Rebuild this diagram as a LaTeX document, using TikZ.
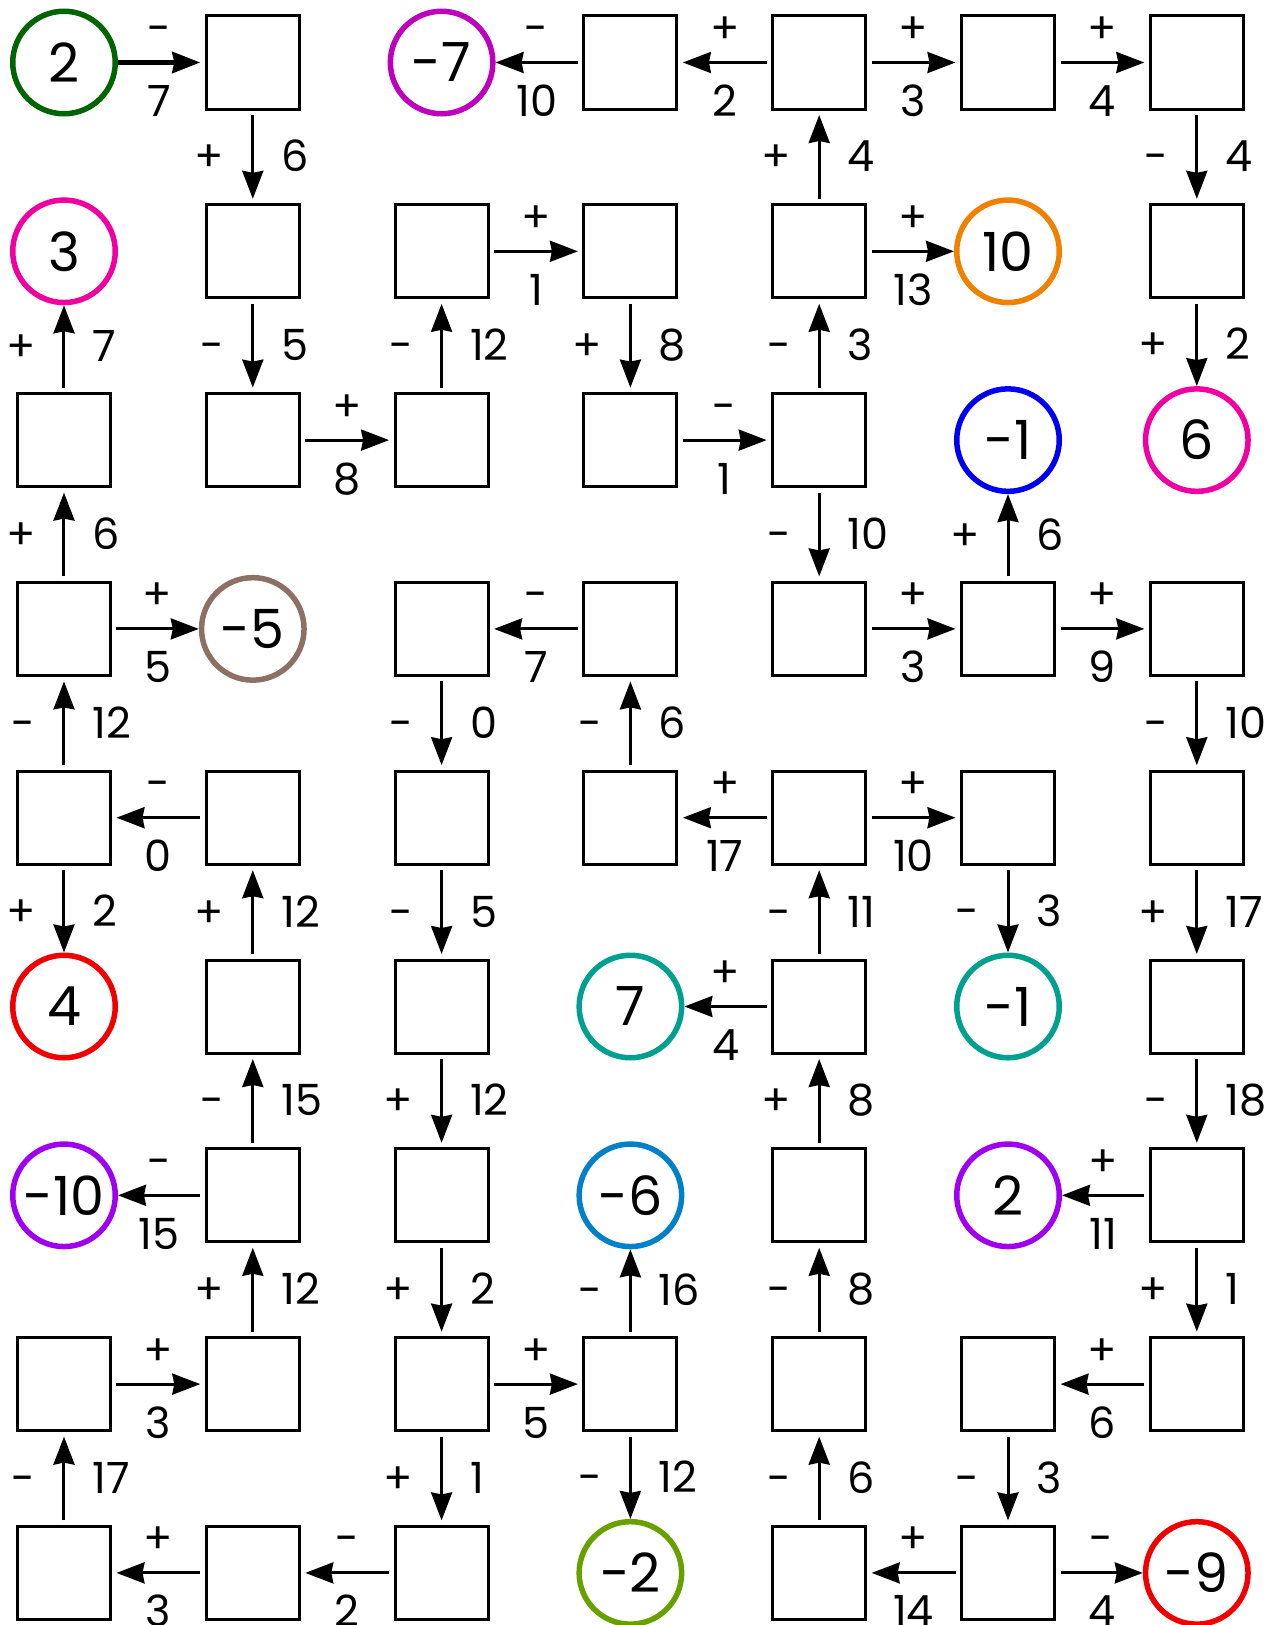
\documentclass[tikz,border=0pt]{standalone}
\usepackage{fontspec}
\setmainfont{Poppins}
\usetikzlibrary{arrows.meta}
\definecolor{cgreen}{RGB}{0,100,0}
\definecolor{cmag}{RGB}{190,0,190}
\definecolor{cpink}{RGB}{240,0,160}
\definecolor{corange}{RGB}{240,128,0}
\definecolor{cblue}{RGB}{0,0,240}
\definecolor{cbrown}{RGB}{140,112,100}
\definecolor{cred}{RGB}{240,0,0}
\definecolor{cteal}{RGB}{0,160,144}
\definecolor{cpurple}{RGB}{160,0,240}
\definecolor{csky}{RGB}{0,128,200}
\definecolor{colive}{RGB}{104,160,0}
\newcommand\myh[4]{\draw[arr] (#1) -- node[ht]{#3} node[hb]{#4} (#2);}
\newcommand\myv[4]{\draw[arr] (#1) -- node[vl]{#3} node[vr]{#4} (#2);}
\begin{document}
\begin{tikzpicture}[x=188.8pt,y=-188.8pt,
  box/.style={draw, line width=3pt, minimum size=93pt, inner sep=0pt, outer sep=6pt},
  circ/.style={draw=#1, circle, line width=5.5pt, minimum size=102.5pt, inner sep=0pt, outer sep=2.75pt, font=\fontsize{54}{60}\selectfont},
  arr/.style={line width=3pt, -{Stealth[length=28pt,width=21pt,inset=2pt]}},
  lab/.style={inner sep=0pt, font=\fontsize{43}{50}\selectfont},
  ht/.style={lab, anchor=base, yshift=19pt},
  hb/.style={lab, anchor=base, yshift=-54pt},
  vl/.style={lab, anchor=base east, xshift=-27pt, yshift=-15pt},
  vr/.style={lab, anchor=base west, xshift=27pt, yshift=-15pt}]
\path[use as bounding box] (-0.33898,-0.33104) rectangle (6.39301,8.27595);
% circles
\node[circ=cgreen] (n00) at (0,0) {2};
\node[circ=cmag] (n02) at (2,0) {-7};
\node[circ=cpink] (n10) at (0,1) {3};
\node[circ=corange] (n15) at (5,1) {10};
\node[circ=cblue] (n25) at (5,2) {-1};
\node[circ=cpink] (n26) at (6,2) {6};
\node[circ=cbrown] (n31) at (1,3) {-5};
\node[circ=cred] (n50) at (0,5) {4};
\node[circ=cteal] (n53) at (3,5) {7};
\node[circ=cteal] (n55) at (5,5) {-1};
\node[circ=cpurple] (n60) at (0,6) {-10};
\node[circ=csky] (n63) at (3,6) {-6};
\node[circ=cpurple] (n65) at (5,6) {2};
\node[circ=colive] (n83) at (3,8) {-2};
\node[circ=cred] (n86) at (6,8) {-9};
% boxes
\foreach \c in {1,3,4,5,6} \node[box] (n0\c) at (\c,0) {};
\foreach \c in {1,2,3,4,6} \node[box] (n1\c) at (\c,1) {};
\foreach \c in {0,1,2,3,4} \node[box] (n2\c) at (\c,2) {};
\foreach \c in {0,2,3,4,5,6} \node[box] (n3\c) at (\c,3) {};
\foreach \c in {0,1,2,3,4,5,6} \node[box] (n4\c) at (\c,4) {};
\foreach \c in {1,2,4,6} \node[box] (n5\c) at (\c,5) {};
\foreach \c in {1,2,4,6} \node[box] (n6\c) at (\c,6) {};
\foreach \c in {0,1,2,3,4,5,6} \node[box] (n7\c) at (\c,7) {};
\foreach \c in {0,1,2,4,5} \node[box] (n8\c) at (\c,8) {};
% horizontal arrows
\draw[arr, line width=5pt] (n00) -- node[ht]{-} node[hb]{7} (n01);
\myh{n03}{n02}{-}{10}
\myh{n04}{n03}{+}{2}
\myh{n04}{n05}{+}{3}
\myh{n05}{n06}{+}{4}
\myh{n12}{n13}{+}{1}
\myh{n14}{n15}{+}{13}
\myh{n21}{n22}{+}{8}
\myh{n23}{n24}{-}{1}
\myh{n30}{n31}{+}{5}
\myh{n33}{n32}{-}{7}
\myh{n34}{n35}{+}{3}
\myh{n35}{n36}{+}{9}
\myh{n41}{n40}{-}{0}
\myh{n44}{n43}{+}{17}
\myh{n44}{n45}{+}{10}
\myh{n54}{n53}{+}{4}
\myh{n61}{n60}{-}{15}
\myh{n66}{n65}{+}{11}
\myh{n70}{n71}{+}{3}
\myh{n72}{n73}{+}{5}
\myh{n76}{n75}{+}{6}
\myh{n81}{n80}{+}{3}
\myh{n82}{n81}{-}{2}
\myh{n85}{n84}{+}{14}
\myh{n85}{n86}{-}{4}
% vertical arrows
\myv{n01}{n11}{+}{6}
\myv{n14}{n04}{+}{4}
\myv{n06}{n16}{-}{4}
\myv{n20}{n10}{+}{7}
\myv{n11}{n21}{-}{5}
\myv{n22}{n12}{-}{12}
\myv{n13}{n23}{+}{8}
\myv{n24}{n14}{-}{3}
\myv{n16}{n26}{+}{2}
\myv{n30}{n20}{+}{6}
\myv{n24}{n34}{-}{10}
\myv{n35}{n25}{+}{6}
\myv{n40}{n30}{-}{12}
\myv{n32}{n42}{-}{0}
\myv{n43}{n33}{-}{6}
\myv{n36}{n46}{-}{10}
\myv{n40}{n50}{+}{2}
\myv{n51}{n41}{+}{12}
\myv{n42}{n52}{-}{5}
\myv{n54}{n44}{-}{11}
\myv{n45}{n55}{-}{3}
\myv{n46}{n56}{+}{17}
\myv{n61}{n51}{-}{15}
\myv{n52}{n62}{+}{12}
\myv{n64}{n54}{+}{8}
\myv{n56}{n66}{-}{18}
\myv{n71}{n61}{+}{12}
\myv{n62}{n72}{+}{2}
\myv{n73}{n63}{-}{16}
\myv{n74}{n64}{-}{8}
\myv{n66}{n76}{+}{1}
\myv{n80}{n70}{-}{17}
\myv{n72}{n82}{+}{1}
\myv{n73}{n83}{-}{12}
\myv{n84}{n74}{-}{6}
\myv{n75}{n85}{-}{3}
\end{tikzpicture}
\end{document}
